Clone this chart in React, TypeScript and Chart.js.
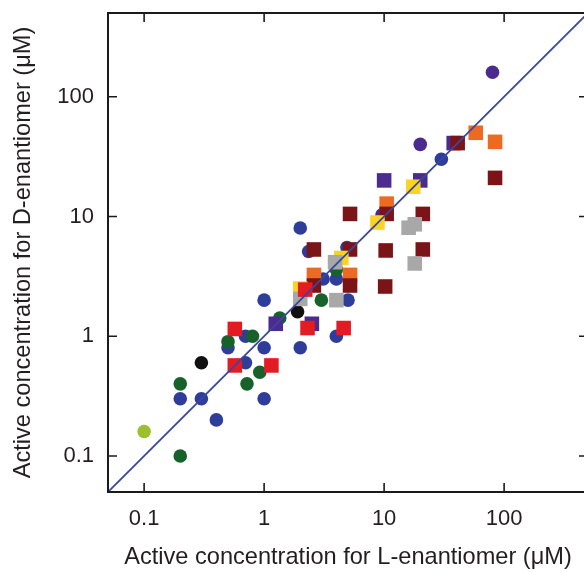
import React, { useEffect, useRef } from "react";
import { Chart, registerables } from "chart.js";

Chart.register(...registerables);

// ---- data (L-enantiomer µM, D-enantiomer µM) ----
const blueCircles: number[][] = [
  [0.2, 0.3], [0.3, 0.3], [0.4, 0.2], [0.5, 0.8], [0.7, 1.0], [0.7, 0.6],
  [1, 0.8], [1, 0.3], [1, 2], [2, 0.8], [2, 8], [2.35, 5.1], [4.9, 5.5],
  [3.1, 3.0], [4, 3.0], [5, 2], [4, 1.0], [30, 30],
];
const purpleCircles: number[][] = [[80, 160], [20, 40], [9.6, 10.3]];
const greenCircles: number[][] = [
  [0.2, 0.1], [0.2, 0.4], [0.5, 0.9], [0.8, 1.0], [0.72, 0.4], [0.92, 0.5],
  [1.35, 1.42], [3, 2], [4, 3.6],
];
const limeCircles: number[][] = [[0.1, 0.16]];
const blackCircles: number[][] = [[0.3, 0.6], [1.9, 1.6]];
const redSquares: number[][] = [
  [0.57, 1.15], [0.57, 0.57], [1.15, 0.57], [2.3, 1.17], [4.6, 1.17], [2.2, 2.45],
];
const purpleSquares: number[][] = [[1.25, 1.27], [2.5, 1.27], [10, 20], [20, 20], [38, 41]];
const orangeSquares: number[][] = [[2.6, 3.25], [5.2, 3.25], [10.5, 12.8], [58, 50], [84, 42]];
const darkRedSquares: number[][] = [
  [2.6, 5.3], [5.2, 5.3], [2.6, 2.65], [5.2, 2.65], [5.2, 10.5], [10.5, 10.5],
  [21, 10.5], [10.3, 5.2], [21, 5.3], [10.2, 2.6], [41, 41], [84, 21],
];
const graySquares: number[][] = [[2.0, 2.05], [4, 2], [3.9, 4.15], [16, 8.05], [18, 8.6], [18, 4.05]];
const yellowSquares: number[][] = [[17.5, 17.7], [8.8, 8.9], [4.4, 4.5], [2.0, 2.5]];
const identityLine: number[][] = [[0.05, 0.05], [500, 500]];

const axisMin = 0.05;
const axisMax = 500;
const tickValues = [0.1, 1, 10, 100];
const tickLabels = ["0.1", "1", "10", "100"];

const xTitle = "Active concentration for L-enantiomer (\u03bcM)";
const yTitle = "Active concentration for D-enantiomer (\u03bcM)";

const FONT = "'Liberation Sans', Arial, Helvetica, sans-serif";

const toPts = (arr: number[][]) => arr.map(([x, y]) => ({ x, y }));

const framePlugin = {
  id: "frame",
  afterDraw(chart: any) {
    const { ctx, chartArea } = chart;
    const { left, right, top, bottom } = chartArea;
    const xs = chart.scales.x;
    const ys = chart.scales.y;
    ctx.save();
    ctx.strokeStyle = "#1a1a1a";
    ctx.lineWidth = 2;
    ctx.beginPath();
    ctx.rect(left, top, right - left, bottom - top);
    ctx.stroke();
    ctx.lineWidth = 1.6;
    const L = 9;
    ctx.beginPath();
    tickValues.forEach((v) => {
      const px = xs.getPixelForValue(v);
      ctx.moveTo(px, bottom);
      ctx.lineTo(px, bottom - L);
      ctx.moveTo(px, top);
      ctx.lineTo(px, top + L);
      const py = ys.getPixelForValue(v);
      ctx.moveTo(left, py);
      ctx.lineTo(left + L, py);
      ctx.moveTo(right, py);
      ctx.lineTo(right - L, py);
    });
    ctx.stroke();
    ctx.restore();
  },
};

function pointSet(label: string, data: number[][], color: string, style: string, order: number) {
  const isRect = style === "rect";
  return {
    label,
    data: toPts(data),
    backgroundColor: color,
    borderColor: color,
    borderWidth: 0,
    pointStyle: style,
    pointRadius: isRect ? 10.3 : 6.8,
    pointBorderWidth: 0,
    showLine: false,
    order,
  };
}

const zeroPadding = (scale: any) => {
  scale.paddingTop = 0;
  scale.paddingBottom = 0;
  scale.paddingLeft = 0;
  scale.paddingRight = 0;
};

export default function App() {
  const ref = useRef<HTMLCanvasElement | null>(null);

  useEffect(() => {
    if (!ref.current) return;
    const tickFont = { family: FONT, size: 22 };
    const titleFont = { family: FONT, size: 23.6 };
    const scaleBase = () => ({
      type: "logarithmic" as const,
      min: axisMin,
      max: axisMax,
      grid: { display: false, drawTicks: false },
      border: { display: false },
      afterBuildTicks: (scale: any) => {
        scale.ticks = tickValues.map((v) => ({ value: v }));
      },
      ticks: {
        font: tickFont,
        color: "#231f20",
        padding: 14,
        autoSkip: false,
        maxRotation: 0,
        callback: (value: any) => {
          const i = tickValues.findIndex((t) => Math.abs(t - Number(value)) < 1e-9);
          return i >= 0 ? tickLabels[i] : "";
        },
      },
    });

    const chart = new Chart(ref.current, {
      type: "scatter",
      data: {
        datasets: [
          {
            label: "y = x",
            data: toPts(identityLine),
            showLine: true,
            borderColor: "#3a479e",
            borderWidth: 1.8,
            pointRadius: 0,
            order: 0,
          } as any,
          pointSet("red", redSquares, "#e31b23", "rect", 1),
          pointSet("gray", graySquares, "#a8a8a8", "rect", 2),
          pointSet("yellow", yellowSquares, "#f9d423", "rect", 3),
          pointSet("darkred", darkRedSquares, "#7b1416", "rect", 4),
          pointSet("orange", orangeSquares, "#ec6a21", "rect", 5),
          pointSet("purpleSq", purpleSquares, "#4b2c8e", "rect", 6),
          pointSet("black", blackCircles, "#111111", "circle", 7),
          pointSet("lime", limeCircles, "#9cbf2f", "circle", 8),
          pointSet("green", greenCircles, "#17622b", "circle", 9),
          pointSet("purple", purpleCircles, "#4b2c8e", "circle", 10),
          pointSet("blue", blueCircles, "#2e3d9a", "circle", 11),
        ] as any,
      },
      options: {
        responsive: false,
        animation: false,
        devicePixelRatio: 1,
        layout: { padding: { left: 0, top: 13, right: 12, bottom: 0 } },
        plugins: { legend: { display: false }, tooltip: { enabled: false } },
        scales: {
          x: {
            ...scaleBase(),
            position: "bottom",
            title: { display: true, text: xTitle, font: titleFont, color: "#231f20", padding: { top: 0, bottom: 1 } },
            afterFit: (scale: any) => {
              scale.height = 81;
              zeroPadding(scale);
            },
          } as any,
          y: {
            ...scaleBase(),
            position: "left",
            title: { display: true, text: yTitle, font: titleFont, color: "#231f20", padding: { top: 9, bottom: 0 } },
            afterFit: (scale: any) => {
              scale.width = 108;
              zeroPadding(scale);
            },
          } as any,
        },
      },
      plugins: [framePlugin],
    });
    return () => chart.destroy();
  }, []);

  return (
    <div
      style={{
        position: "fixed",
        left: 0,
        top: 0,
        width: 584,
        height: 573,
        overflow: "hidden",
        background: "#fff",
      }}
    >
      <canvas ref={ref} width={600} height={573} style={{ display: "block", width: 600, height: 573 }} />
    </div>
  );
}
